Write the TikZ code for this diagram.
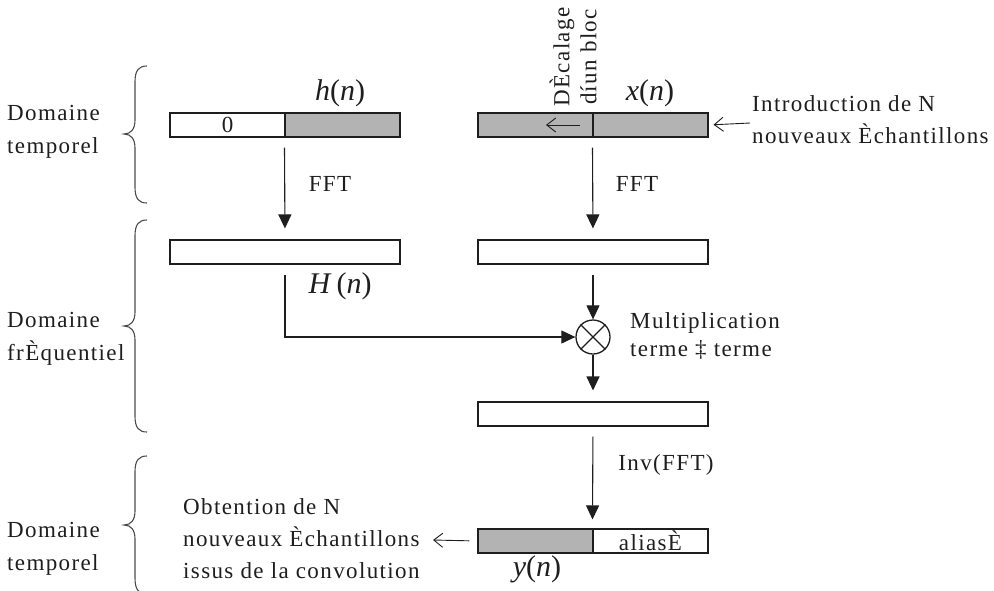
\documentclass[tikz,border=0pt]{standalone}
\usepackage{fontspec}
\setmainfont{Liberation Serif}[LetterSpace=6]
\newfontfamily\labelfont{Liberation Serif}
\usetikzlibrary{arrows.meta}
\definecolor{boxgrey}{RGB}{179,179,179}
\definecolor{ink}{RGB}{30,30,30}

\begin{document}
\begin{tikzpicture}[x=1pt,y=-1pt,
  txt/.style={font=\fontsize{23}{32}\selectfont, inner sep=0pt, text=ink},
  mathlbl/.style={font=\labelfont\fontsize{30}{34}\selectfont, inner sep=0pt, text=ink},
  half/.style={draw=ink, line width=1.1pt, minimum width=115pt, minimum height=24pt,
    inner sep=0pt, font=\fontsize{23}{32}\selectfont, text=ink},
  full/.style={draw=ink, line width=1.1pt, minimum width=230pt, minimum height=24pt, inner sep=0pt},
  shaded/.style={fill=boxgrey},
  flow/.style={draw=ink, line width=1.1pt, -{Triangle[length=14pt,width=13pt]}},
  barb/.style={draw=ink, line width=0.9pt, -{Straight Barb[length=9pt,width=14pt]}},
  bracket/.style={draw=ink!80, line width=1.1pt}
]
\useasboundingbox (0,0) rectangle (994,590);

% braces grouping the three domains
\newcommand{\domainbrace}[3]{% top, tip, bottom
  \draw[bracket] (147,#1) .. controls (139,#1) and (135,#1+4) .. (135,#1+16)
    -- (135,#2-14) .. controls (135,#2-5) and (131,#2) .. (124,#2)
    .. controls (131,#2) and (135,#2+5) .. (135,#2+14)
    -- (135,#3-16) .. controls (135,#3-4) and (139,#3) .. (147,#3);}
\domainbrace{66}{134}{203}
\domainbrace{220}{326}{432}
\domainbrace{456}{525}{594}

\node[txt, anchor=west, align=left, font=\fontsize{23}{33}\selectfont] (dom1) at (7,132) {Domaine\\temporel};
\node[txt, anchor=west, align=left, font=\fontsize{23}{33}\selectfont] (dom2) at (7,339) {Domaine\\frÈquentiel};
\node[txt, anchor=west, align=left, font=\fontsize{23}{33}\selectfont] (dom3) at (7,549) {Domaine\\temporel};

% time-domain input blocks
\node[half] (h0) at (227.5,125) {0};
\node[half, shaded] (h1) at (342.5,125) {};
\node[half, shaded] (x0) at (535.5,125) {};
\node[half, shaded] (x1) at (650.5,125) {};
\node[mathlbl] (hn) at (340,93) {\textit{h}(\textit{n})};
\node[mathlbl] (xn) at (650,93) {\textit{x}(\textit{n})};

% block shift inside the input buffer
\coordinate (shA) at (580,125);
\coordinate (shB) at (546,125);
\draw[barb] (shA) -- (shB);
\node[txt, rotate=90, align=center, font=\fontsize{23}{27}\selectfont] (shift) at (573,57) {DÈcalage\\díun bloc};

\node[txt, anchor=west, align=left] (intro) at (752,120) {Introduction de N\\nouveaux Èchantillons};
\coordinate (inA) at (750,123);
\draw[barb, shorten >=5pt] (inA) -- (x1.east);

% frequency domain
\node[full] (H) at (285,252) {};
\node[full] (X) at (593,252) {};
\node[mathlbl] (Hn) at (340,286) {\textit{H}\,(\textit{n})};
\node[txt] (fft1) at (330,184) {FFT};
\node[txt] (fft2) at (637,184) {FFT};

\node[circle, draw=ink, line width=1.3pt, minimum size=34pt, inner sep=0pt] (mul) at (593,337) {};
\draw[draw=ink, line width=1.3pt] (mul.north east) -- (mul.south west) (mul.north west) -- (mul.south east);
\node[txt, anchor=west, align=left, font=\fontsize{23}{28}\selectfont] (multxt) at (630,336) {Multiplication\\terme ‡ terme};

\node[full] (P) at (593,414) {};

% output block
\node[half, shaded] (y0) at (535.5,541) {};
\node[half] (y1) at (650.5,541) {aliasÈ};
\node[mathlbl] (yn) at (537,569) {\textit{y}(\textit{n})};
\node[txt] (ifft) at (666,465) {Inv(FFT)};

\node[txt, anchor=west, align=left] (obt) at (183,539) {Obtention de N\\nouveaux Èchantillons\\issus de la convolution};
\coordinate (obA) at (433,540);
\draw[barb, shorten <=8pt] (y0.west) -- (obA);

% signal flow
\draw[flow, shorten <=10pt, shorten >=11pt] (h1.south west) -- (H.north);
\draw[flow, shorten <=10pt, shorten >=11pt] (x1.south west) -- (X.north);
\draw[flow, shorten <=10pt] (H.south) |- (mul.west);
\draw[flow, shorten <=10pt] (X.south) -- (mul.north);
\draw[flow, shorten >=11pt] (mul.south) -- (P.north);
\draw[flow, shorten <=10pt, shorten >=9pt] (P.south) -- (y1.north west);
\end{tikzpicture}
\end{document}
